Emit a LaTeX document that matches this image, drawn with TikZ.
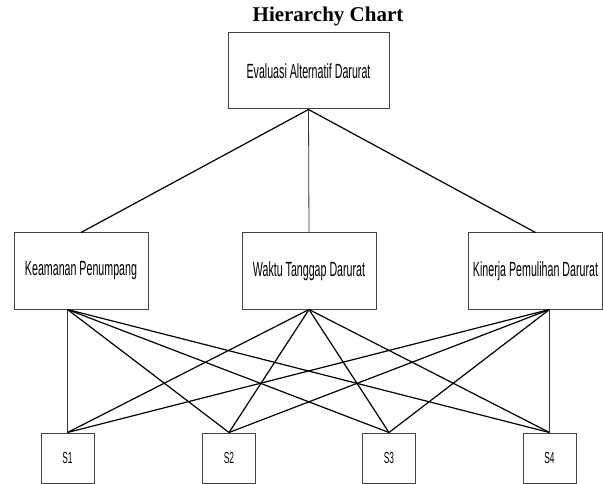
\documentclass[tikz,border=0pt]{standalone}
\usepackage{fontspec}
\setmainfont{Liberation Serif}
\newfontfamily\narrowfont[FakeStretch=0.52]{Liberation Sans}
\definecolor{boxgray}{HTML}{444444}
\begin{document}
\begin{tikzpicture}[x=1pt,y=-1pt,
  box/.style={draw=boxgray,line width=1pt,inner sep=0pt,fill=white,
    font=\narrowfont\fontsize{20.5}{24}\selectfont},
  bigbox/.style={box,minimum width=161pt,minimum height=76pt},
  midbox/.style={box,minimum width=134pt,minimum height=76pt},
  sbox/.style={box,minimum width=53pt,minimum height=50pt,
    font=\narrowfont\fontsize{16}{19}\selectfont},
  link/.style={draw=black,line width=1.2pt},
  vlink/.style={draw=black!80,line width=0.8pt}]
\useasboundingbox (0,0) rectangle (603,484);
\node[font=\bfseries\fontsize{21}{25}\selectfont] (title) at (328,16) {Hierarchy Chart};
\node[bigbox] (goal) at (308.5,71) {Evaluasi Alternatif Darurat};
\node[midbox] (k) at (81,271) {Keamanan Penumpang};
\node[midbox] (w) at (309,271) {Waktu Tanggap Darurat};
\node[midbox] (p) at (535.5,271) {Kinerja Pemulihan Darurat};
\node[sbox] (s1) at (67.5,458) {S1};
\node[sbox] (s2) at (229,458) {S2};
\node[sbox] (s3) at (389,458) {S3};
\node[sbox] (s4) at (549.5,458) {S4};
\coordinate (kb) at (k.south -| s1.north);
\coordinate (wb) at (w.south);
\coordinate (pb) at (p.south -| s4.north);
\draw[link] (goal.south) -- (k.north);
\draw[vlink] (goal.south) -- (w.north);
\draw[link] (goal.south) -- (p.north);
\draw[vlink] (kb) -- (s1.north);
\draw[link] (kb) -- (s2.north);
\draw[link] (kb) -- (s3.north);
\draw[link] (kb) -- (s4.north);
\draw[link] (wb) -- (s1.north);
\draw[link] (wb) -- (s2.north);
\draw[link] (wb) -- (s3.north);
\draw[link] (wb) -- (s4.north);
\draw[link] (pb) -- (s1.north);
\draw[link] (pb) -- (s2.north);
\draw[link] (pb) -- (s3.north);
\draw[vlink] (pb) -- (s4.north);
\end{tikzpicture}
\end{document}
